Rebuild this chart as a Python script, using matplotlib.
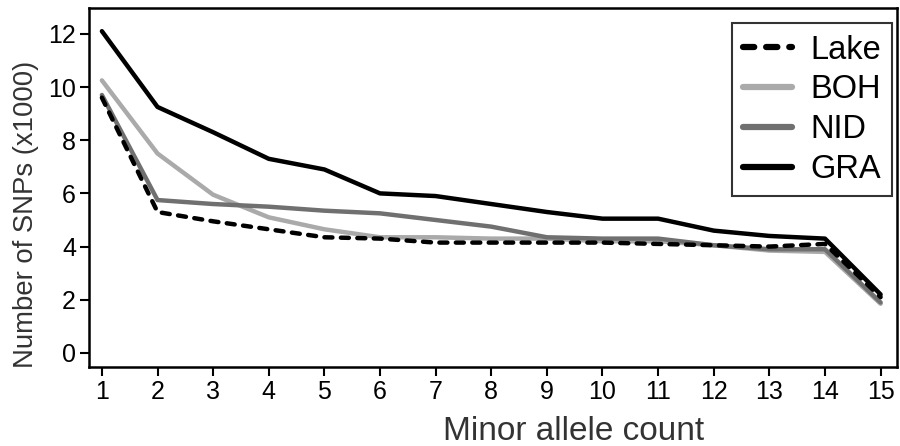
import matplotlib
matplotlib.use('Agg')
import matplotlib.pyplot as plt

minor_allele_count = list(range(1, 16))

# values in thousands of SNPs
lake = [9.6, 5.3, 4.95, 4.65, 4.35, 4.3, 4.15, 4.15, 4.15, 4.15, 4.1, 4.05, 4.0, 4.1, 2.1]
boh = [10.25, 7.5, 5.95, 5.1, 4.65, 4.35, 4.35, 4.3, 4.3, 4.2, 4.2, 4.05, 3.85, 3.8, 1.85]
nid = [9.7, 5.75, 5.6, 5.5, 5.35, 5.25, 5.0, 4.75, 4.35, 4.3, 4.3, 4.05, 3.9, 3.9, 1.9]
gra = [12.1, 9.25, 8.3, 7.3, 6.9, 6.0, 5.9, 5.6, 5.3, 5.05, 5.05, 4.6, 4.4, 4.3, 2.2]

plt.rcParams['font.family'] = ['Liberation Sans', 'DejaVu Sans']

fig = plt.figure(figsize=(9, 4.46), dpi=100)
ax = fig.add_axes([0.099, 0.177, 0.898, 0.805])

l_boh, = ax.plot(minor_allele_count, boh, color='#aaaaaa', lw=3.2, label='BOH', solid_capstyle='round')
l_nid, = ax.plot(minor_allele_count, nid, color='#707070', lw=3.2, label='NID', solid_capstyle='round')
l_gra, = ax.plot(minor_allele_count, gra, color='black', lw=3.2, label='GRA', solid_capstyle='round')
l_lake, = ax.plot(minor_allele_count, lake, color='black', lw=3.2, ls=(0, (1.8, 1.9)),
                  label='Lake', dash_capstyle='round')

ax.set_xlim(0.77, 15.3)
ax.set_ylim(-0.53, 12.97)
ax.set_xticks(minor_allele_count)
ax.set_yticks(range(0, 13, 2))
ax.tick_params(direction='out', length=6.5, width=1.5, labelsize=18, colors='black', pad=3)
for s in ax.spines.values():
    s.set_linewidth(1.8)

ax.set_xlabel('Minor allele count', fontsize=24, color='#333333')
ax.xaxis.set_label_coords(0.60, -0.135, transform=ax.transAxes)
ax.xaxis.label.set_va('top')
ax.set_ylabel('Number of SNPs (x1000)', fontsize=19.8, color='#333333')
ax.yaxis.set_label_coords(-0.062, 0.426, transform=ax.transAxes)

leg = ax.legend(handles=[l_lake, l_boh, l_nid, l_gra], loc='upper right',
                fontsize=23.5, frameon=True, fancybox=False, edgecolor='black',
                labelspacing=0.27, handlelength=1.5, handletextpad=0.55,
                borderpad=0.35, borderaxespad=0, bbox_to_anchor=(0.994, 0.958))
leg.get_frame().set_linewidth(1.5)
for h in leg.get_lines():
    h.set_linewidth(4.5)

plt.savefig('out.png', dpi=100, facecolor='white')
plt.close()
